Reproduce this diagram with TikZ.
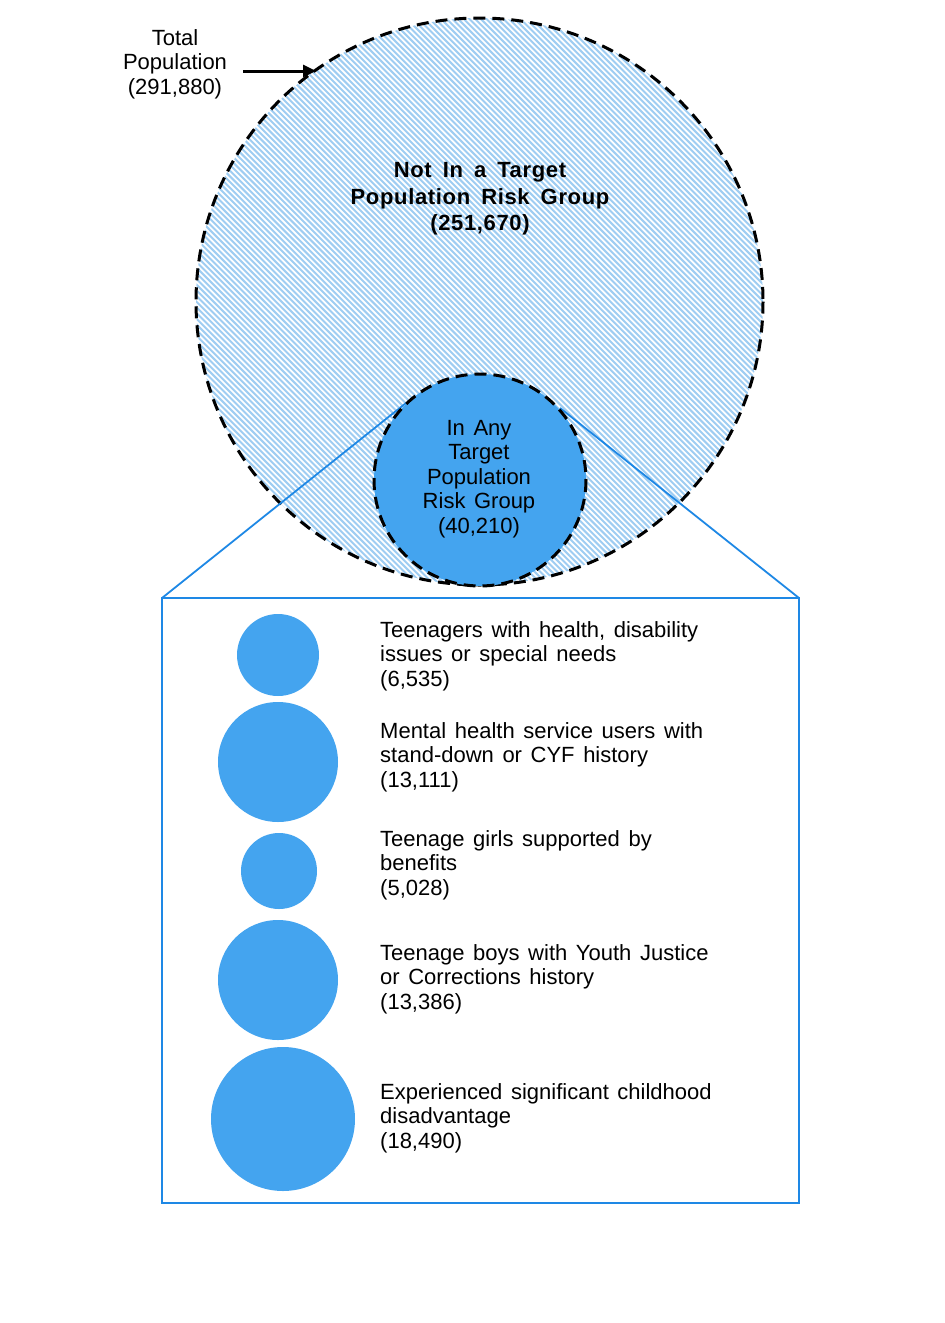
\documentclass[tikz,border=0pt]{standalone}
\usepackage{fontspec}
\setmainfont{Liberation Sans}
\newfontfamily\titlefont[LetterSpace=3]{Liberation Sans Bold}
\usetikzlibrary{arrows.meta}
\definecolor{riskblue}{HTML}{44A4EF}
\definecolor{hatchblue}{HTML}{9FCDF2}
\definecolor{framblue}{HTML}{1E88E5}
\newcommand{\txtsize}{\fontsize{22}{24.5}\selectfont\spaceskip=8.6pt\relax}
\newcommand{\titlesize}{\titlefont\fontsize{22}{26.5}\selectfont\spaceskip=11pt\relax}
\tikzset{
  txt/.style={font=\txtsize, inner sep=0pt, align=center},
  titletxt/.style={font=\titlesize, inner sep=0pt, align=center},
  itemtxt/.style={font=\txtsize, inner sep=0pt, align=left, anchor=west},
  dashcirc/.style={draw=black, line width=3pt, dash pattern=on 12pt off 7pt},
  bubble/.style={circle, fill=riskblue, inner sep=0pt},
  framestyle/.style={draw=framblue, line width=1.8pt},
  hatchline/.style={draw=hatchblue, line width=2pt},
}
\begin{document}
\begin{tikzpicture}[x=1pt,y=-1pt]
\useasboundingbox (0,0) rectangle (945,1323);
% big circle hatch
\begin{scope}
\clip (479.5,301.5) circle (283.5);
\foreach \i in {0,...,205} {
  \draw[hatchline] ({-400+\i*5.67},0) -- ++(620,620);
}
\end{scope}
\draw[dashcirc] (479.5,301.5) circle (283.5);
% frame
\draw[framestyle] (162,598) rectangle (799,1203);
\coordinate (bl) at (162,598);
\coordinate (br) at (799,598);
\coordinate (tl) at (406,403);
\coordinate (tr) at (560,408);
\draw[framestyle] (bl) -- (tl);
\draw[framestyle] (br) -- (tr);
% small circle
\node[bubble, minimum size=212pt] (risk) at (480,480) {};
\draw[dashcirc] (480,480) circle (106);
\node[txt] (risktxt) at (479,479) {In Any\\Target\\Population\\Risk Group\\(40,210)};
% title
\node[titletxt] (nottxt) at (480,199) {Not In a Target\\Population Risk Group\\(251,670)};
% total
\node[txt] (total) at (175,64) {Total\\Population\\(291,880)};
\coordinate (arrtip) at (316,71);
\draw[line width=3pt, -{Triangle[length=13pt,width=12pt]}] (243,71) -- (arrtip);
% bubbles
\node[bubble, minimum size=82pt] (b1) at (278,655) {};
\node[bubble, minimum size=120pt] (b2) at (278,762) {};
\node[bubble, minimum size=76pt] (b3) at (279,871) {};
\node[bubble, minimum size=120pt] (b4) at (278,980) {};
\node[bubble, minimum size=144pt] (b5) at (283,1119) {};
% item texts
\node[itemtxt] (t1) at (380,656) {Teenagers with health, disability\\issues or special needs\\(6,535)};
\node[itemtxt] (t2) at (380,757) {Mental health service users with\\stand-down or CYF history\\(13,111)};
\node[itemtxt] (t3) at (380,865) {Teenage girls supported by\\benefits\\(5,028)};
\node[itemtxt] (t4) at (380,979) {Teenage boys with Youth Justice\\or Corrections history\\(13,386)};
\node[itemtxt] (t5) at (380,1118) {Experienced significant childhood\\disadvantage\\(18,490)};
\end{tikzpicture}
\end{document}
